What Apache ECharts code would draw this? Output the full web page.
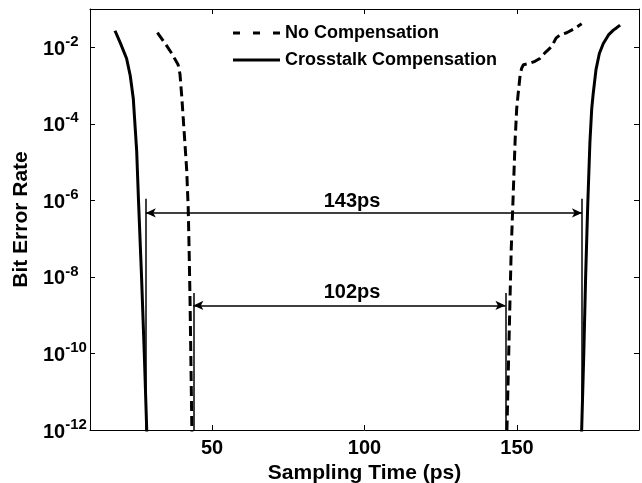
<!DOCTYPE html>
<html>
<head>
<meta charset="utf-8">
<script src="https://cdn.jsdelivr.net/npm/echarts@6/dist/echarts.min.js"></script>
<style>
html, body { margin: 0; padding: 0; background: #fff; }
#chart { width: 642px; height: 483px; }
</style>
</head>
<body>
<div id="chart"></div>
<script>
var FONT = '"Liberation Sans", Arial, Helvetica, sans-serif';

// sampling time (ps) / bit error rate
var noCompLeftTime = [32.1, 34.5, 36.8, 38.9, 39.5, 40.1, 40.6, 41.2, 41.7, 42.2, 42.5, 42.8, 43.1, 43.4, 43.6];
var noCompLeftBer = [2.4e-2, 1.3e-2, 6.9e-3, 3.5e-3, 2.0e-3, 5.0e-4, 1.26e-4, 2.5e-5, 6.3e-6, 6.3e-7, 5.0e-8, 2.5e-9, 5.0e-11, 1.0e-12, 1.6e-13];

var noCompRightTime = [146.4, 146.7, 147.2, 147.7, 148.1, 148.6, 149.0, 149.4, 149.9, 150.4, 151.0, 151.5, 152.1, 154.0, 155.9, 157.5, 159.5, 161.4, 162.8, 164.1, 166.3, 168.6, 171.2];
var noCompRightBer = [1.6e-13, 1.0e-12, 5.0e-11, 2.5e-9, 5.0e-8, 6.3e-7, 5.0e-6, 4.0e-5, 2.5e-4, 6.3e-4, 1.8e-3, 2.8e-3, 3.5e-3, 3.8e-3, 4.3e-3, 5.1e-3, 7.6e-3, 1.05e-2, 1.74e-2, 2.1e-2, 2.4e-2, 3.0e-2, 4.1e-2];

var compLeftTime = [18.2, 20.0, 22.0, 23.2, 24.2, 25.3, 25.9, 26.9, 27.8, 28.6, 28.9];
var compLeftBer = [2.7e-2, 1.26e-2, 5.1e-3, 1.8e-3, 4.5e-4, 2.0e-5, 1.0e-6, 1.0e-8, 1.0e-10, 1.0e-12, 1.6e-13];

var compRightTime = [171.0, 171.2, 171.9, 172.5, 173.2, 173.9, 174.5, 175.0, 175.9, 177.0, 178.3, 180.0, 181.6, 182.6, 183.8];
var compRightBer = [1.6e-13, 1.0e-12, 1.0e-10, 1.0e-8, 7.9e-7, 3.2e-5, 2.5e-4, 6.3e-4, 2.6e-3, 6.9e-3, 1.26e-2, 2.1e-2, 2.8e-2, 3.2e-2, 3.8e-2];

// eye-opening annotations
var windowLabels = ['143ps', '102ps'];
var windowStart = [28.3, 43.9];
var windowEnd = [171.3, 146.2];
var arrowLevel = [4.7e-7, 1.8e-9];
var markerTop = [1.1e-6, 3.8e-9];
var markerBottom = 1e-12;
var labelTime = [95.9, 95.9];
var labelLevel = [9.3e-7, 4.0e-9];

var xTicks = [50, 100, 150];

function zip(a, b) {
    return a.map(function (v, i) { return [v, b[i]]; });
}

var markLines = [];
windowLabels.forEach(function (name, i) {
    markLines.push([
        {coord: [windowStart[i], arrowLevel[i]], symbol: 'arrow'},
        {coord: [windowEnd[i], arrowLevel[i]], symbol: 'arrow'}
    ]);
    markLines.push([
        {coord: [windowStart[i], markerBottom], symbol: 'none'},
        {coord: [windowStart[i], markerTop[i]], symbol: 'none'}
    ]);
    markLines.push([
        {coord: [windowEnd[i], markerBottom], symbol: 'none'},
        {coord: [windowEnd[i], markerTop[i]], symbol: 'none'}
    ]);
});

var labelData = windowLabels.map(function (name, i) {
    return [labelTime[i], labelLevel[i], name];
});

var boldText = {fontFamily: FONT, fontWeight: 'bold', color: '#000'};

function curve(name, time, ber, dashed) {
    return {
        name: name,
        type: 'line',
        xAxisIndex: 0,
        yAxisIndex: 0,
        data: zip(time, ber),
        symbol: 'none',
        showSymbol: false,
        clip: true,
        lineStyle: {color: '#000', width: 3, type: dashed ? [10, 5] : 'solid'},
        itemStyle: {color: '#000'},
        z: 3
    };
}

function xAxis(pos, showLabel) {
    return {
        type: 'value',
        position: pos,
        min: 10,
        max: 190,
        name: showLabel ? 'Sampling Time (ps)' : '',
        nameLocation: 'middle',
        nameGap: 29,
        nameTextStyle: Object.assign({fontSize: 21}, boldText),
        axisLine: {show: true, onZero: false, lineStyle: {color: '#000', width: 1}},
        axisTick: {show: true, inside: true, length: 5, customValues: xTicks, lineStyle: {color: '#000'}},
        axisLabel: Object.assign({show: showLabel, customValues: xTicks, margin: 8, fontSize: 20}, boldText),
        splitLine: {show: false}
    };
}

function yAxis(pos, showLabel) {
    return {
        type: 'log',
        logBase: 10,
        position: pos,
        min: 1e-12,
        max: 1e-1,
        interval: 2,
        name: showLabel ? 'Bit Error Rate' : '',
        nameLocation: 'middle',
        nameGap: 48,
        nameTextStyle: Object.assign({fontSize: 21}, boldText),
        axisLine: {show: true, onZero: false, lineStyle: {color: '#000', width: 1}},
        axisTick: {show: true, inside: true, length: 5, lineStyle: {color: '#000'}},
        axisLabel: {
            show: showLabel,
            showMaxLabel: false,
            align: 'left',
            margin: 47,
            padding: [4, 0, 0, 0],
            formatter: function (v) {
                var e = Math.round(Math.log(v) / Math.LN10);
                if (e > -2) return '';
                return '{b|10}{s|' + e + '}';
            },
            rich: {
                b: Object.assign({fontSize: 20, lineHeight: 30}, boldText),
                s: Object.assign({fontSize: 15, lineHeight: 15, verticalAlign: 'top'}, boldText)
            }
        },
        splitLine: {show: false},
        minorTick: {show: false}
    };
}

var chart = echarts.init(document.getElementById('chart'));
chart.setOption({
    animation: false,
    backgroundColor: '#fff',
    grid: {left: 90, right: 3, top: 9, bottom: 53, containLabel: false, outerBoundsMode: 'none'},
    legend: {
        orient: 'vertical',
        left: 233,
        top: 22,
        padding: 0,
        itemWidth: 47,
        itemHeight: 3,
        itemGap: 5,
        selectedMode: false,
        data: [
            {name: 'No Compensation', icon: 'path://M0,0h7v3h-7z M20,0h7v3h-7z M40,0h7v3h-7z'},
            {name: 'Crosstalk Compensation', icon: 'rect'}
        ],
        itemStyle: {color: '#000'},
        textStyle: Object.assign({fontSize: 18, lineHeight: 22}, boldText)
    },
    xAxis: [xAxis('bottom', true), xAxis('top', false)],
    yAxis: [yAxis('left', true), yAxis('right', false)],
    series: [
        curve('No Compensation', noCompLeftTime, noCompLeftBer, true),
        curve('No Compensation', noCompRightTime, noCompRightBer, true),
        curve('Crosstalk Compensation', compLeftTime, compLeftBer, false),
        curve('Crosstalk Compensation', compRightTime, compRightBer, false),
        {
            name: 'windows',
            type: 'line',
            data: [],
            markLine: {
                silent: true,
                animation: false,
                symbol: ['arrow', 'arrow'],
                symbolSize: [7, 10],
                label: {show: false},
                lineStyle: {color: '#000', width: 1.5, type: 'solid'},
                emphasis: {disabled: true},
                data: markLines
            },
            z: 2
        },
        {
            name: 'window labels',
            type: 'scatter',
            data: labelData,
            symbolSize: 0,
            silent: true,
            itemStyle: {color: '#000', opacity: 1},
            label: Object.assign({
                show: true,
                position: 'inside',
                fontSize: 20,
                opacity: 1,
                textBorderWidth: 0,
                formatter: function (p) { return p.value[2]; }
            }, boldText),
            z: 4
        }
    ]
});
</script>
</body>
</html>
